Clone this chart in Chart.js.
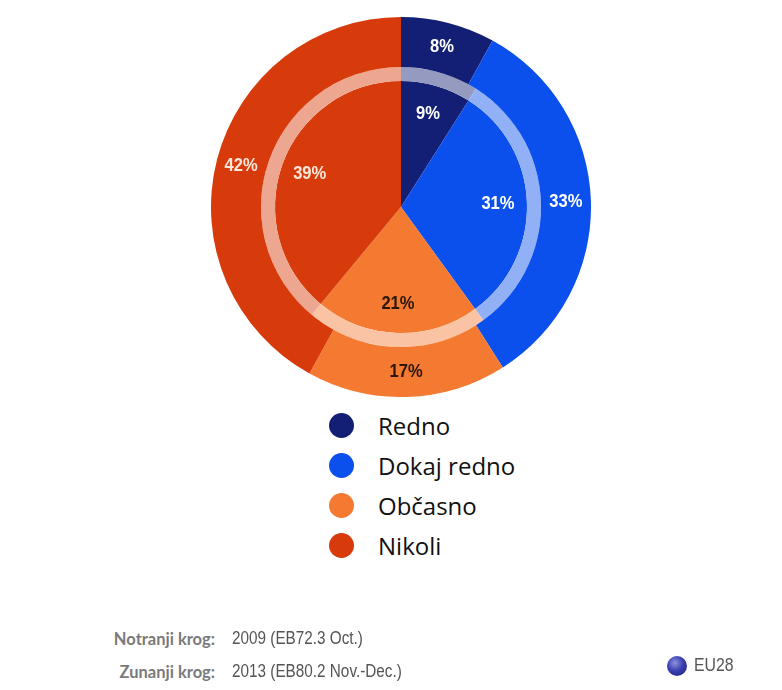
<!DOCTYPE html>
<html>
<head>
<meta charset="utf-8">
<script src="https://cdn.jsdelivr.net/npm/chart.js@4/dist/chart.umd.min.js"></script>
<style>
  html, body { margin: 0; padding: 0; background: #ffffff; }
  body { width: 782px; height: 690px; position: relative; overflow: hidden; }
  #chartBox { position: absolute; left: 211px; top: 17px; width: 380px; height: 380px; }
  #legend { position: absolute; left: 329px; top: 405px; font-family: "Open Sans", sans-serif; font-size: 24px; color: #111; }
  .li { height: 40px; display: flex; align-items: center; }
  .dot { width: 25px; height: 25px; border-radius: 50%; margin-right: 24px; filter: blur(0.4px); }
  .foot { position: absolute; }
  .flab { font-family: Lato, "Open Sans", sans-serif; font-weight: bold; color: #7a7a7a; text-align: right; width: 200px; left: 15px; font-size: 16.5px; }
  .fval { font-family: "Liberation Sans", Arial, sans-serif; color: #555; left: 232px; font-size: 18px;
          transform: scaleX(0.85); transform-origin: left center; white-space: nowrap; }
  #eu { position: absolute; left: 667px; top: 655px; display: flex; align-items: center; font-family: "Liberation Sans", Arial, sans-serif; font-size: 18px; color: #555; }
  #eu span { display: inline-block; transform: scaleX(0.88); transform-origin: left center; }
  #globe { width: 20px; height: 20px; border-radius: 50%; margin-right: 7px;
           background: radial-gradient(circle at 40% 35%, #8d93e0 0%, #3a3fb0 45%, #1d1f7a 100%); }
</style>
</head>
<body>
<div id="chartBox"><canvas id="c"></canvas></div>
<div id="legend"></div>
<div class="foot flab" style="top:629px;">Notranji krog:</div>
<div class="foot fval" style="top:628px;">2009 (EB72.3 Oct.)</div>
<div class="foot flab" style="top:662px;">Zunanji krog:</div>
<div class="foot fval" style="top:661px;">2013 (EB80.2 Nov.-Dec.)</div>
<div id="eu"><div id="globe"></div><span>EU28</span></div>
<script>
// ---- data ----
const categories = ["Redno", "Dokaj redno", "Občasno", "Nikoli"];
const outer2013 = [8, 33, 17, 42];   // Zunanji krog: 2013
const inner2009 = [9, 31, 21, 39];   // Notranji krog: 2009

// ---- styles ----
const colors = ["#131f74", "#0b4fec", "#f47a32", "#d83b0b"];
const labelColors = ["#ffffff", "#ffffff", "#2b1608", "#fbe6da"];

function lighten(hex, a) {
  const n = parseInt(hex.slice(1), 16);
  const r = (n >> 16) & 255, g = (n >> 8) & 255, b = n & 255;
  const m = v => Math.round(v + (255 - v) * a);
  return `rgb(${m(r)},${m(g)},${m(b)})`;
}
const ringColors = colors.map(c => lighten(c, 0.55));

// legend
const legend = document.getElementById("legend");
categories.forEach((c, i) => {
  const d = document.createElement("div");
  d.className = "li";
  d.innerHTML = `<span class="dot" style="background:${colors[i]}"></span><span>${c}</span>`;
  legend.appendChild(d);
});

const pctLabels = {
  id: "pctLabels",
  afterDatasetsDraw(chart) {
    const ctx = chart.ctx;
    ctx.save();
    ctx.font = "bold 18px 'Liberation Sans', Arial, sans-serif";
    ctx.textAlign = "center";
    ctx.textBaseline = "middle";
    [[0, 0.5], [2, 0.77]].forEach(([di, f]) => {
      const meta = chart.getDatasetMeta(di);
      const data = chart.data.datasets[di].data;
      meta.data.forEach((arc, i) => {
        const p = arc.getProps(["x", "y", "startAngle", "endAngle", "innerRadius", "outerRadius"], true);
        const a = (p.startAngle + p.endAngle) / 2;
        const r = p.innerRadius + f * (p.outerRadius - p.innerRadius);
        const x = p.x + r * Math.cos(a), y = p.y + r * Math.sin(a);
        ctx.save();
        ctx.translate(x, y);
        ctx.scale(0.92, 1);
        ctx.fillStyle = labelColors[i];
        ctx.fillText(data[i] + "%", 0, 0);
        ctx.restore();
      });
    });
    ctx.restore();
  }
};

new Chart(document.getElementById("c"), {
  type: "pie",
  data: {
    labels: categories,
    datasets: [
      { label: "2013", data: outer2013, backgroundColor: colors, borderWidth: 0, weight: 50 },
      { label: "ring", data: inner2009, backgroundColor: ringColors, borderWidth: 0, weight: 14 },
      { label: "2009", data: inner2009, backgroundColor: colors, borderWidth: 0, weight: 126 }
    ]
  },
  options: {
    responsive: true,
    maintainAspectRatio: false,
    animation: false,
    layout: { padding: 0 },
    plugins: { legend: { display: false }, tooltip: { enabled: false } }
  },
  plugins: [pctLabels]
});
</script>
</body>
</html>
